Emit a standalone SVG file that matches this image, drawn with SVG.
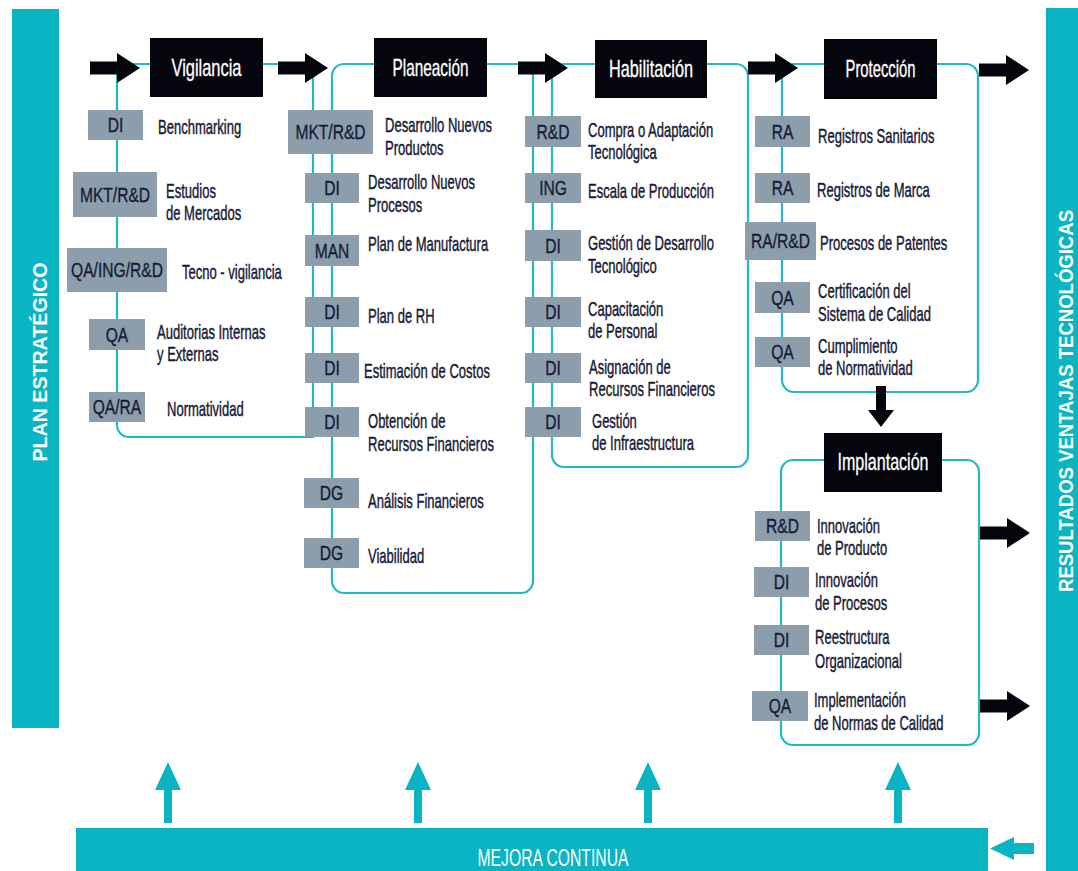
<svg xmlns="http://www.w3.org/2000/svg" width="1078" height="871" viewBox="0 0 1078 871">
<defs>
<style>
.bar{fill:#0ab4c3}
.bt{fill:#ffffff;font-family:"Liberation Sans",Arial,sans-serif;font-weight:bold;font-size:20px}
.ol{fill:none;stroke:#22b8c4;stroke-width:2.2}
.blk{fill:#05050d}
.tt{fill:#ffffff;stroke:#ffffff;stroke-width:0.35;font-family:"Liberation Sans",Arial,sans-serif;font-size:24px;text-anchor:middle}
.gb{fill:#8c9dab}
.l{fill:#141a36;stroke:#141a36;stroke-width:0.3;font-family:"Liberation Sans",Arial,sans-serif;font-size:20px;text-anchor:middle}
.d{fill:#161a36;stroke:#161a36;stroke-width:0.45;font-family:"Liberation Sans",Arial,sans-serif;font-size:21px}
.ta{fill:#0ab4c3}
</style>
<path id="ra" d="M0,-6.5 H27 V-15 L50,0 L27,15 V6.5 H0 Z" fill="#05050d"/>
<path id="ua" d="M0,0 L13,28 H4 V61 H-4 V28 H-13 Z" fill="#0ab4c3"/>
</defs>
<rect width="1078" height="871" fill="#ffffff"/>

<g id="plan-estrategico">
<rect class="bar" x="12" y="9" width="47" height="719"/>
<text class="bt" transform="translate(47,362) rotate(-90)" text-anchor="middle" textLength="199" lengthAdjust="spacingAndGlyphs">PLAN ESTRATÉGICO</text>
</g>
<g id="resultados">
<rect class="bar" x="1046" y="8" width="32" height="863"/>
<text class="bt" transform="translate(1073,401) rotate(-90)" text-anchor="middle" textLength="382" lengthAdjust="spacingAndGlyphs">RESULTADOS VENTAJAS TECNOLÓGICAS</text>
</g>
<g id="mejora-continua">
<rect class="bar" x="76" y="828" width="912" height="43"/>
<text x="553" y="866" fill="#ffffff" font-family="Liberation Sans, Arial, sans-serif" font-size="24" text-anchor="middle" textLength="151" lengthAdjust="spacingAndGlyphs">MEJORA CONTINUA</text>
</g>

<g id="connectors">
<path class="ol" d="M313,64 H117 V425 A12,12 0 0 0 129,437 H313 V64"/>
<rect class="ol" x="332" y="64" width="201" height="529" rx="12"/>
<rect class="ol" x="552" y="64" width="196" height="403" rx="12"/>
<rect class="ol" x="782" y="64" width="196" height="328" rx="12"/>
<rect class="ol" x="781" y="460" width="198" height="285" rx="12"/>
<use href="#ra" transform="translate(90,68)"/>
<use href="#ra" transform="translate(278,68)"/>
<use href="#ra" transform="translate(518,68)"/>
<use href="#ra" transform="translate(748,68)"/>
<use href="#ra" transform="translate(979,70)"/>
<use href="#ra" transform="translate(980,533)"/>
<use href="#ra" transform="translate(980,706)"/>
<polygon points="876,386 886,386 886,410 894,410 881,427 868,410 876,410" fill="#05050d"/>
<use href="#ua" transform="translate(168,762)"/>
<use href="#ua" transform="translate(418,762)"/>
<use href="#ua" transform="translate(648,762)"/>
<use href="#ua" transform="translate(898,762)"/>
<polygon class="ta" points="990,848.5 1014,837 1014,843 1034,843 1034,854 1014,854 1014,860"/>
</g>

<g id="vigilancia">
<rect class="blk" x="150" y="38" width="113" height="59"/>
<text class="tt" x="206.5" y="76" textLength="70" lengthAdjust="spacingAndGlyphs">Vigilancia</text>
<g id="v1"><rect class="gb" x="88" y="110" width="55" height="30"/><text class="l" transform="translate(115.5,132) scale(.78,1)">DI</text>
<text class="d" transform="translate(158,134) scale(.62,1)">Benchmarking</text></g>
<g id="v2"><rect class="gb" x="73" y="172" width="84" height="45"/><text class="l" transform="translate(115,201.5) scale(.78,1)">MKT/R&amp;D</text>
<text class="d" transform="translate(166,198) scale(.62,1)"><tspan x="0" y="0">Estudios</tspan><tspan x="0" y="22">de Mercados</tspan></text></g>
<g id="v3"><rect class="gb" x="67" y="248" width="100" height="44"/><text class="l" transform="translate(117,277) scale(.78,1)">QA/ING/R&amp;D</text>
<text class="d" transform="translate(182,279) scale(.62,1)">Tecno - vigilancia</text></g>
<g id="v4"><rect class="gb" x="89" y="319" width="56" height="31"/><text class="l" transform="translate(117,341.5) scale(.78,1)">QA</text>
<text class="d" transform="translate(157,339) scale(.62,1)"><tspan x="0" y="0">Auditorias Internas</tspan><tspan x="0" y="22">y Externas</tspan></text></g>
<g id="v5"><rect class="gb" x="89" y="392" width="56" height="30"/><text class="l" transform="translate(117,414) scale(.78,1)">QA/RA</text>
<text class="d" transform="translate(167,416) scale(.62,1)">Normatividad</text></g>
</g>

<g id="planeacion">
<rect class="blk" x="374" y="38" width="113" height="59"/>
<text class="tt" x="430.5" y="76" textLength="76" lengthAdjust="spacingAndGlyphs">Planeación</text>
<g id="p1"><rect class="gb" x="288" y="110" width="85" height="44"/><text class="l" transform="translate(330.5,139) scale(.78,1)">MKT/R&amp;D</text>
<text class="d" transform="translate(385,132) scale(.62,1)"><tspan x="0" y="0">Desarrollo Nuevos</tspan><tspan x="0" y="23">Productos</tspan></text></g>
<g id="p2"><rect class="gb" x="305" y="173" width="54" height="30"/><text class="l" transform="translate(332,195) scale(.78,1)">DI</text>
<text class="d" transform="translate(368,189) scale(.62,1)"><tspan x="0" y="0">Desarrollo Nuevos</tspan><tspan x="0" y="23">Procesos</tspan></text></g>
<g id="p3"><rect class="gb" x="305" y="235" width="54" height="31"/><text class="l" transform="translate(332,257.5) scale(.78,1)">MAN</text>
<text class="d" transform="translate(368,251) scale(.62,1)">Plan de Manufactura</text></g>
<g id="p4"><rect class="gb" x="305" y="297" width="54" height="30"/><text class="l" transform="translate(332,319) scale(.78,1)">DI</text>
<text class="d" transform="translate(368,323) scale(.62,1)">Plan de RH</text></g>
<g id="p5"><rect class="gb" x="305" y="353" width="54" height="30"/><text class="l" transform="translate(332,375) scale(.78,1)">DI</text>
<text class="d" transform="translate(364,378) scale(.62,1)">Estimación de Costos</text></g>
<g id="p6"><rect class="gb" x="305" y="407" width="54" height="30"/><text class="l" transform="translate(332,429) scale(.78,1)">DI</text>
<text class="d" transform="translate(368,428) scale(.62,1)"><tspan x="0" y="0">Obtención de</tspan><tspan x="0" y="23">Recursos Financieros</tspan></text></g>
<g id="p7"><rect class="gb" x="304" y="478" width="55" height="30"/><text class="l" transform="translate(331.5,500) scale(.78,1)">DG</text>
<text class="d" transform="translate(368,508) scale(.62,1)">Análisis Financieros</text></g>
<g id="p8"><rect class="gb" x="304" y="538" width="55" height="30"/><text class="l" transform="translate(331.5,560) scale(.78,1)">DG</text>
<text class="d" transform="translate(368,563) scale(.62,1)">Viabilidad</text></g>
</g>

<g id="habilitacion">
<rect class="blk" x="595" y="40" width="112" height="58"/>
<text class="tt" x="651" y="77" textLength="84" lengthAdjust="spacingAndGlyphs">Habilitación</text>
<g id="h1"><rect class="gb" x="525" y="116" width="56" height="31"/><text class="l" transform="translate(553,138.5) scale(.78,1)">R&amp;D</text>
<text class="d" transform="translate(588,137) scale(.62,1)"><tspan x="0" y="0">Compra o Adaptación</tspan><tspan x="0" y="22">Tecnológica</tspan></text></g>
<g id="h2"><rect class="gb" x="525" y="173" width="56" height="30"/><text class="l" transform="translate(553,195) scale(.78,1)">ING</text>
<text class="d" transform="translate(588,198) scale(.62,1)">Escala de Producción</text></g>
<g id="h3"><rect class="gb" x="525" y="230" width="56" height="31"/><text class="l" transform="translate(553,252.5) scale(.78,1)">DI</text>
<text class="d" transform="translate(588,250) scale(.62,1)"><tspan x="0" y="0">Gestión de Desarrollo</tspan><tspan x="0" y="23">Tecnológico</tspan></text></g>
<g id="h4"><rect class="gb" x="525" y="297" width="56" height="30"/><text class="l" transform="translate(553,319) scale(.78,1)">DI</text>
<text class="d" transform="translate(588,316) scale(.62,1)"><tspan x="0" y="0">Capacitación</tspan><tspan x="0" y="22">de Personal</tspan></text></g>
<g id="h5"><rect class="gb" x="525" y="353" width="56" height="30"/><text class="l" transform="translate(553,375) scale(.78,1)">DI</text>
<text class="d" transform="translate(589,374) scale(.62,1)"><tspan x="0" y="0">Asignación de</tspan><tspan x="0" y="22">Recursos Financieros</tspan></text></g>
<g id="h6"><rect class="gb" x="525" y="407" width="56" height="30"/><text class="l" transform="translate(553,429) scale(.78,1)">DI</text>
<text class="d" transform="translate(592,428) scale(.62,1)"><tspan x="0" y="0">Gestión</tspan><tspan x="0" y="22">de Infraestructura</tspan></text></g>
</g>

<g id="proteccion">
<rect class="blk" x="824" y="39" width="113" height="60"/>
<text class="tt" x="880.5" y="77" textLength="70" lengthAdjust="spacingAndGlyphs">Protección</text>
<g id="r1"><rect class="gb" x="755" y="116" width="55" height="31"/><text class="l" transform="translate(782.5,138.5) scale(.78,1)">RA</text>
<text class="d" transform="translate(818,143) scale(.62,1)">Registros Sanitarios</text></g>
<g id="r2"><rect class="gb" x="755" y="173" width="55" height="30"/><text class="l" transform="translate(782.5,195) scale(.78,1)">RA</text>
<text class="d" transform="translate(817,197) scale(.62,1)">Registros de Marca</text></g>
<g id="r3"><rect class="gb" x="745" y="222" width="71" height="38"/><text class="l" transform="translate(780.5,248) scale(.78,1)">RA/R&amp;D</text>
<text class="d" transform="translate(820,250) scale(.62,1)">Procesos de Patentes</text></g>
<g id="r4"><rect class="gb" x="755" y="282" width="55" height="31"/><text class="l" transform="translate(782.5,304.5) scale(.78,1)">QA</text>
<text class="d" transform="translate(818,298) scale(.62,1)"><tspan x="0" y="0">Certificación del</tspan><tspan x="0" y="23">Sistema de Calidad</tspan></text></g>
<g id="r5"><rect class="gb" x="755" y="337" width="55" height="30"/><text class="l" transform="translate(782.5,359) scale(.78,1)">QA</text>
<text class="d" transform="translate(818,353) scale(.62,1)"><tspan x="0" y="0">Cumplimiento</tspan><tspan x="0" y="22">de Normatividad</tspan></text></g>
</g>

<g id="implantacion">
<rect class="blk" x="824" y="433" width="118" height="59"/>
<text class="tt" x="883" y="470" textLength="91" lengthAdjust="spacingAndGlyphs">Implantación</text>
<g id="i1"><rect class="gb" x="755" y="511" width="55" height="30"/><text class="l" transform="translate(782.5,533) scale(.78,1)">R&amp;D</text>
<text class="d" transform="translate(817,533) scale(.62,1)"><tspan x="0" y="0">Innovación</tspan><tspan x="0" y="22">de Producto</tspan></text></g>
<g id="i2"><rect class="gb" x="754" y="567" width="55" height="30"/><text class="l" transform="translate(781.5,589) scale(.78,1)">DI</text>
<text class="d" transform="translate(815,587) scale(.62,1)"><tspan x="0" y="0">Innovación</tspan><tspan x="0" y="23">de Procesos</tspan></text></g>
<g id="i3"><rect class="gb" x="754" y="625" width="55" height="30"/><text class="l" transform="translate(781.5,647) scale(.78,1)">DI</text>
<text class="d" transform="translate(815,644) scale(.62,1)"><tspan x="0" y="0">Reestructura</tspan><tspan x="0" y="24">Organizacional</tspan></text></g>
<g id="i4"><rect class="gb" x="752" y="691" width="56" height="30"/><text class="l" transform="translate(780,713) scale(.78,1)">QA</text>
<text class="d" transform="translate(814,707) scale(.62,1)"><tspan x="0" y="0">Implementación</tspan><tspan x="0" y="23">de Normas de Calidad</tspan></text></g>
</g>
</svg>
